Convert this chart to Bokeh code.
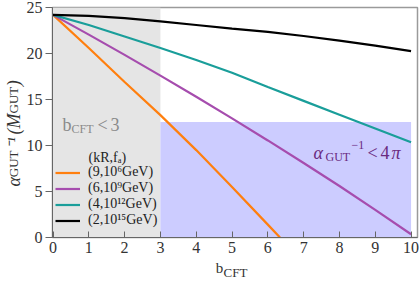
import math
from bokeh.plotting import figure
from bokeh.models import Label, Legend, LegendItem, Range1d, FixedTicker, LinearAxis
from bokeh.embed import file_html
from bokeh.resources import INLINE

# ---------------- data ----------------
b_orange = [0, 1, 2, 3, 4, 5, 6, 6.34]
a_orange = [24.2, 20.6, 16.9, 13.3, 9.5, 5.5, 1.4, 0.0]

b_common = [0, 1, 2, 3, 4, 5, 6, 7, 8, 9, 10]
a_purple = [24.2, 22.05, 19.85, 17.6, 15.3, 12.95, 10.55, 8.1, 5.6, 3.0, 0.35]
a_teal = [24.2, 23.1, 21.85, 20.6, 19.3, 17.9, 16.35, 14.85, 13.35, 11.85, 10.35]
a_black = [24.2, 24.1, 23.85, 23.5, 23.1, 22.7, 22.35, 21.9, 21.4, 20.85, 20.25]

series_labels = ["(9,10\u2076GeV)", "(6,10\u2079GeV)", "(4,10\u00b9\u00b2GeV)", "(2,10\u00b9\u2075GeV)"]
series_colors = ["#ff7f0e", "#a64dae", "#1a9e9a", "#000000"]
legend_title = "(kR,f\u2090)"

b_cft_max = 3                 # gray region: b_CFT < 3
alpha_inv_max = 4 * math.pi   # blue region: alpha^-1 < 4 pi
b_max = 10

x_ticks = [0, 1, 2, 3, 4, 5, 6, 7, 8, 9, 10]
y_ticks = [0, 5, 10, 15, 20, 25]

# ---------------- figure ----------------
X_LO, X_HI = -0.014, 10.18
FONT = "Liberation Serif"
FRAME_W, FRAME_H = 365, 231

p = figure(width=420, height=282, output_backend="svg", toolbar_location=None,
           x_range=Range1d(X_LO, X_HI), y_range=Range1d(0, 25),
           min_border_left=52, min_border_right=3, min_border_top=7, min_border_bottom=44)
p.grid.visible = False
p.outline_line_color = "#9a9a9a"
p.outline_line_width = 1.5
p.background_fill_color = "white"
p.extra_x_ranges = {"labx": Range1d(0, FRAME_W)}
p.extra_y_ranges = {"laby": Range1d(0, FRAME_H)}

for ax in (p.xaxis, p.yaxis):
    ax.axis_line_color = "#666666"
    ax.major_tick_line_color = "#666666"
    ax.minor_tick_line_color = None
    ax.minor_tick_out = 0
    ax.minor_tick_in = 0
    ax.major_label_text_font = FONT
    ax.major_label_text_font_size = "16px"
    ax.major_label_text_color = "#333333"
p.xaxis.ticker = FixedTicker(ticks=x_ticks)
p.yaxis.ticker = FixedTicker(ticks=y_ticks)
p.xaxis.major_tick_in = 6
p.xaxis.major_tick_out = 0
p.xaxis.major_label_standoff = 4
p.yaxis.major_tick_in = 0
p.yaxis.major_tick_out = 7
p.yaxis.major_label_standoff = 3


def text_axis(side, rng, pieces, size, standoff, style="normal", color="#333333"):
    """An axis without line/ticks whose labels are pieces of a composed axis title."""
    kw = {"x_range_name": rng} if side == "below" else {"y_range_name": rng}
    ax = LinearAxis(**kw)
    ax.ticker = FixedTicker(ticks=[pos for pos, _ in pieces])
    ax.major_label_overrides = {pos: txt for pos, txt in pieces}
    ax.axis_line_color = None
    ax.major_tick_line_color = None
    ax.minor_tick_line_color = None
    ax.major_tick_in = 0
    ax.major_tick_out = 0
    ax.minor_tick_in = 0
    ax.minor_tick_out = 0
    ax.major_label_standoff = standoff
    ax.major_label_text_font = FONT
    ax.major_label_text_font_size = f"{size}px"
    ax.major_label_text_font_style = style
    ax.major_label_text_color = color
    if side == "left":
        ax.major_label_orientation = "vertical"
    p.add_layout(ax, side)


# x axis title  b_CFT  (positions in frame pixels)
text_axis("below", "labx", [(167, "b")], 15, 4)
text_axis("below", "labx", [(183, "CFT")], 13, -14)

# y axis title  alpha_GUT^-1 (M_GUT)
text_axis("left", "laby", [(74, "GUT"), (138, "GUT")], 13, 2)
text_axis("left", "laby", [(56, "\u03b1"), (95, "\u207b\u00b9"), (114, "(M"), (155, ")")], 18, -21,
          style="italic")

# shaded regions
p.quad(left=[X_LO], right=[b_cft_max], bottom=[0], top=[25], color="#e5e5e5", line_color=None)
p.quad(left=[b_cft_max], right=[b_max], bottom=[0], top=[alpha_inv_max], color="#ccccff", line_color=None)

# curves
xs = [b_orange, b_common, b_common, b_common]
ys = [a_orange, a_purple, a_teal, a_black]
renderers = []
for x, y, c in zip(xs, ys, series_colors):
    renderers.append(p.line(x, y, line_width=2.2, color=c))

legend = Legend(items=[LegendItem(label=l, renderers=[r]) for l, r in zip(series_labels, renderers)],
                location=(3, 9), background_fill_alpha=0, border_line_alpha=0,
                label_text_font=FONT, label_text_font_size="14px", label_text_color="#222222",
                glyph_width=25, glyph_height=15, label_height=15, spacing=0, padding=0, margin=0,
                label_standoff=8)
p.add_layout(legend)


def put(text, x, y, size, color="#333333", style="normal"):
    p.add_layout(Label(x=x, y=y, x_units="screen", y_units="screen", text=text,
                       text_font=FONT, text_font_size=f"{size}px", text_color=color,
                       text_font_style=style, text_align="left", text_baseline="alphabetic"))


put(legend_title, 36, 80, 14, "#222222")

# gray annotation b_CFT<3
GRAY = "#8a8a8a"
put("b", 10, 113, 18, GRAY)
put("CFT", 19, 109, 12, GRAY)
put("<", 45, 113, 18, GRAY)
put("3", 58, 113, 18, GRAY)

# purple annotation alpha_GUT^-1 < 4 pi
PUR = "#6a2a80"
put("\u03b1", 261, 85, 18, PUR, style="italic")
put("GUT", 273, 81, 12, PUR)
put("\u22121", 299, 93, 12, PUR)
put("<", 315, 85, 18, PUR)
put("4", 328, 85, 18, PUR)
put("\u03c0", 339, 85, 18, PUR, style="italic")

open("out.html", "w").write(file_html(p, INLINE))
